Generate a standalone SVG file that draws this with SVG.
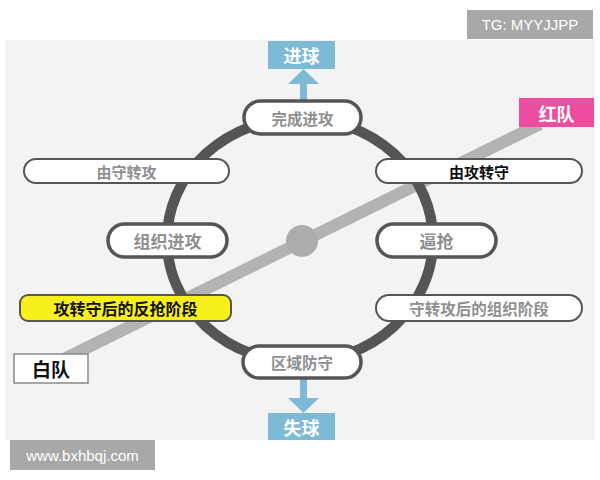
<svg xmlns="http://www.w3.org/2000/svg" width="600" height="480" viewBox="0 0 600 480">
<style>
.pill{fill:#ffffff;stroke:#555555;stroke-width:2}
.thick{fill:#ffffff;stroke:#555555;stroke-width:3.5}
.gt{font-family:"Noto Sans CJK SC","Noto Sans",sans-serif;font-weight:bold;fill:#8f8f8f;text-anchor:middle;dominant-baseline:central}
.bt{font-family:"Noto Sans CJK SC","Noto Sans",sans-serif;font-weight:bold;fill:#111111;text-anchor:middle;dominant-baseline:central}
.wt{font-family:"Noto Sans CJK SC","Noto Sans",sans-serif;font-weight:bold;fill:#ffffff;text-anchor:middle;dominant-baseline:central}
.badge{font-family:"Liberation Sans",Arial,sans-serif;fill:#ffffff;dominant-baseline:central}
.blue{fill:#7dbad5}
</style>
<rect x="0" y="0" width="600" height="480" fill="#ffffff"/>
<rect x="5" y="40" width="590" height="400" fill="#f3f3f3"/>

<g id="connectors">
  <line x1="60" y1="361" x2="540" y2="124" stroke="#b3b3b3" stroke-width="12"/>
  <ellipse cx="300" cy="240" rx="133" ry="122" fill="none" stroke="#555555" stroke-width="10.5"/>
  <rect x="300" y="84" width="7" height="18" class="blue"/>
  <polygon points="288,84 319,84 303.5,69" class="blue"/>
  <rect x="300" y="377" width="7" height="22" class="blue"/>
  <polygon points="288,398 319,398 303.5,413" class="blue"/>
</g>

<g id="center"><circle cx="302" cy="241" r="16" fill="#adadad"/></g>

<g id="goal"><rect x="268" y="41" width="67" height="28" class="blue"/><text x="301.5" y="55" class="wt" font-size="18">进球</text></g>
<g id="lose"><rect x="268" y="413" width="67" height="27" class="blue"/><text x="301.5" y="427" class="wt" font-size="18">失球</text></g>

<g id="red"><rect x="519" y="98" width="75" height="29" fill="#ec4d9f"/><text x="556.5" y="112.5" class="wt" font-size="18">红队</text></g>
<g id="white"><rect x="14" y="354" width="74" height="29" fill="#ffffff" stroke="#8a8a8a" stroke-width="1.5"/><text x="51" y="368.5" class="bt" font-size="19">白队</text></g>

<g id="finish"><rect x="244" y="101" width="117" height="33" rx="16.5" class="thick"/><text x="302.5" y="117.5" class="gt" font-size="15.5">完成进攻</text></g>
<g id="zone"><rect x="243" y="346" width="118" height="32" rx="16" class="thick"/><text x="302" y="362" class="gt" font-size="15.5">区域防守</text></g>
<g id="organize"><rect x="108" y="224" width="119" height="33" rx="16.5" class="thick"/><text x="167.5" y="240.5" class="gt" font-size="17">组织进攻</text></g>
<g id="press"><rect x="377" y="224" width="119" height="33" rx="16.5" class="thick"/><text x="436.5" y="240.5" class="gt" font-size="17">逼抢</text></g>

<g id="d2a"><rect x="24" y="159" width="205" height="24" rx="12" class="pill"/><text x="126.5" y="171" class="gt" font-size="15">由守转攻</text></g>
<g id="a2d"><rect x="376" y="159" width="206" height="24" rx="12" class="pill"/><text x="479" y="171" class="bt" font-size="15">由攻转守</text></g>
<g id="counter"><rect x="20" y="295" width="211" height="26" rx="8" fill="#f7f01c" stroke="#555555" stroke-width="2"/><text x="125.5" y="308" class="bt" font-size="16">攻转守后的反抢阶段</text></g>
<g id="build"><rect x="376" y="295" width="206" height="26" rx="13" class="pill"/><text x="479" y="308" class="gt" font-size="15.5">守转攻后的组织阶段</text></g>

<g id="tg"><rect x="467" y="10" width="126" height="29" fill="#a8a8a8"/><text x="530" y="24.5" class="badge" font-size="15" text-anchor="middle">TG: MYYJJPP</text></g>
<g id="www"><rect x="10" y="440" width="145" height="30" fill="#a8a8a8"/><text x="82.5" y="455" class="badge" font-size="15" text-anchor="middle">www.bxhbqj.com</text></g>
</svg>
